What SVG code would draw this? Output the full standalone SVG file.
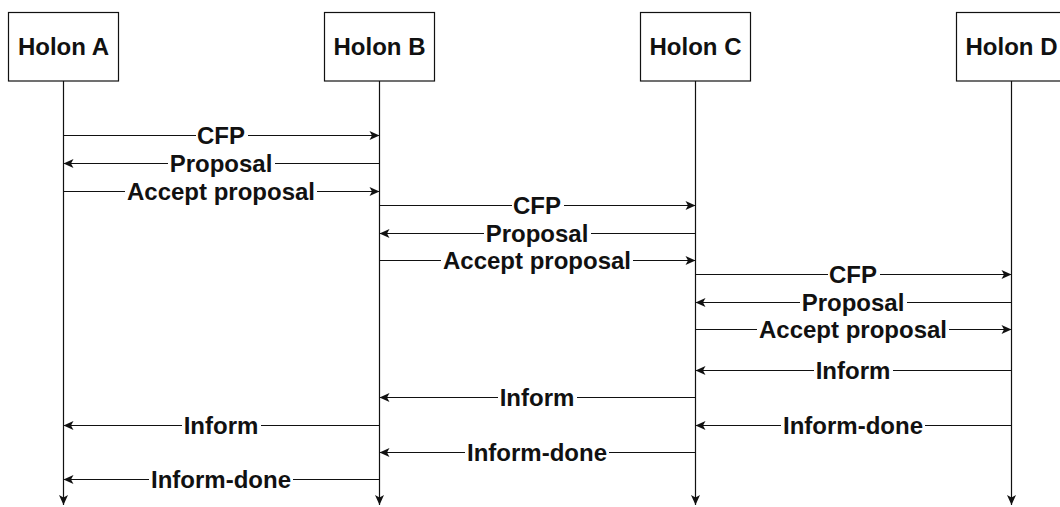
<svg xmlns="http://www.w3.org/2000/svg" width="1060" height="507" viewBox="0 0 1060 507">
  <defs>
    <marker id="arrow" markerUnits="userSpaceOnUse" markerWidth="14" markerHeight="12" viewBox="-12 -6 14 12" refX="0" refY="0" orient="auto">
      <path d="M0,0 L-10,-4.5 L-7.5,0 L-10,4.5 Z" fill="#111"/>
    </marker>
    <style>
      .box { fill: #fff; stroke: #111; stroke-width: 1.2; }
      .life { stroke: #111; stroke-width: 1.2; fill: none; marker-end: url(#arrow); }
      .msg { stroke: #111; stroke-width: 1.2; fill: none; marker-end: url(#arrow); }
      .bg { fill: #fff; }
      .title { font-family: "Liberation Sans", Arial, sans-serif; font-size: 24px; font-weight: bold; fill: #111; text-anchor: middle; }
      .lbl { font-family: "Liberation Sans", Arial, sans-serif; font-size: 24px; font-weight: bold; fill: #111; text-anchor: middle; }
    </style>
  </defs>
  <rect width="1060" height="507" fill="#fff"/>

  <!-- lifelines and messages -->
  <g id="connectors">
    <line class="life" x1="63.5" y1="81" x2="63.5" y2="505"/>
    <line class="life" x1="379.5" y1="81" x2="379.5" y2="505"/>
    <line class="life" x1="695.5" y1="81" x2="695.5" y2="505"/>
    <line class="life" x1="1011.5" y1="81" x2="1011.5" y2="505"/>

    <!-- A <-> B negotiation -->
    <line class="msg" x1="63.5" y1="135.5" x2="379.5" y2="135.5"/>
    <line class="msg" x1="379.5" y1="163.5" x2="63.5" y2="163.5"/>
    <line class="msg" x1="63.5" y1="191.5" x2="379.5" y2="191.5"/>
    <!-- B <-> C negotiation -->
    <line class="msg" x1="379.5" y1="205.5" x2="695.5" y2="205.5"/>
    <line class="msg" x1="695.5" y1="233.5" x2="379.5" y2="233.5"/>
    <line class="msg" x1="379.5" y1="260.5" x2="695.5" y2="260.5"/>
    <!-- C <-> D negotiation -->
    <line class="msg" x1="695.5" y1="274.5" x2="1011.5" y2="274.5"/>
    <line class="msg" x1="1011.5" y1="302.5" x2="695.5" y2="302.5"/>
    <line class="msg" x1="695.5" y1="329.5" x2="1011.5" y2="329.5"/>
    <!-- results flowing back -->
    <line class="msg" x1="1011.5" y1="370.5" x2="695.5" y2="370.5"/>
    <line class="msg" x1="695.5" y1="397.5" x2="379.5" y2="397.5"/>
    <line class="msg" x1="379.5" y1="425.5" x2="63.5" y2="425.5"/>
    <line class="msg" x1="1011.5" y1="425.5" x2="695.5" y2="425.5"/>
    <line class="msg" x1="695.5" y1="452.5" x2="379.5" y2="452.5"/>
    <line class="msg" x1="379.5" y1="479.5" x2="63.5" y2="479.5"/>

    <!-- label backgrounds -->
    <rect class="bg" x="196" y="126" width="52" height="19"/>
    <rect class="bg" x="168" y="154" width="107" height="19"/>
    <rect class="bg" x="125" y="182" width="192" height="19"/>
    <rect class="bg" x="512" y="196" width="52" height="19"/>
    <rect class="bg" x="484" y="224" width="107" height="19"/>
    <rect class="bg" x="441" y="251" width="192" height="19"/>
    <rect class="bg" x="828" y="265" width="52" height="19"/>
    <rect class="bg" x="800" y="293" width="107" height="19"/>
    <rect class="bg" x="757" y="320" width="192" height="19"/>
    <rect class="bg" x="814" y="361" width="79" height="19"/>
    <rect class="bg" x="498" y="388" width="79" height="19"/>
    <rect class="bg" x="182" y="416" width="79" height="19"/>
    <rect class="bg" x="781" y="416" width="144" height="19"/>
    <rect class="bg" x="465" y="443" width="144" height="19"/>
    <rect class="bg" x="149" y="470" width="144" height="19"/>

    <!-- labels -->
    <text class="lbl" x="221" y="144">CFP</text>
    <text class="lbl" x="221" y="172">Proposal</text>
    <text class="lbl" x="221" y="200">Accept proposal</text>
    <text class="lbl" x="537" y="214">CFP</text>
    <text class="lbl" x="537" y="242">Proposal</text>
    <text class="lbl" x="537" y="269">Accept proposal</text>
    <text class="lbl" x="853" y="283">CFP</text>
    <text class="lbl" x="853" y="311">Proposal</text>
    <text class="lbl" x="853" y="338">Accept proposal</text>
    <text class="lbl" x="853" y="379">Inform</text>
    <text class="lbl" x="537" y="406">Inform</text>
    <text class="lbl" x="221" y="434">Inform</text>
    <text class="lbl" x="853" y="434">Inform-done</text>
    <text class="lbl" x="537" y="461">Inform-done</text>
    <text class="lbl" x="221" y="488">Inform-done</text>
  </g>

  <g id="holon-a">
    <rect class="box" x="8.5" y="12.5" width="110" height="68.5"/>
    <text class="title" x="63.5" y="55">Holon A</text>
  </g>
  <g id="holon-b">
    <rect class="box" x="324.5" y="12.5" width="110" height="68.5"/>
    <text class="title" x="379.5" y="55">Holon B</text>
  </g>
  <g id="holon-c">
    <rect class="box" x="640.5" y="12.5" width="110" height="68.5"/>
    <text class="title" x="695.5" y="55">Holon C</text>
  </g>
  <g id="holon-d">
    <rect class="box" x="956.5" y="12.5" width="110" height="68.5"/>
    <text class="title" x="1011.5" y="55">Holon D</text>
  </g>
</svg>
